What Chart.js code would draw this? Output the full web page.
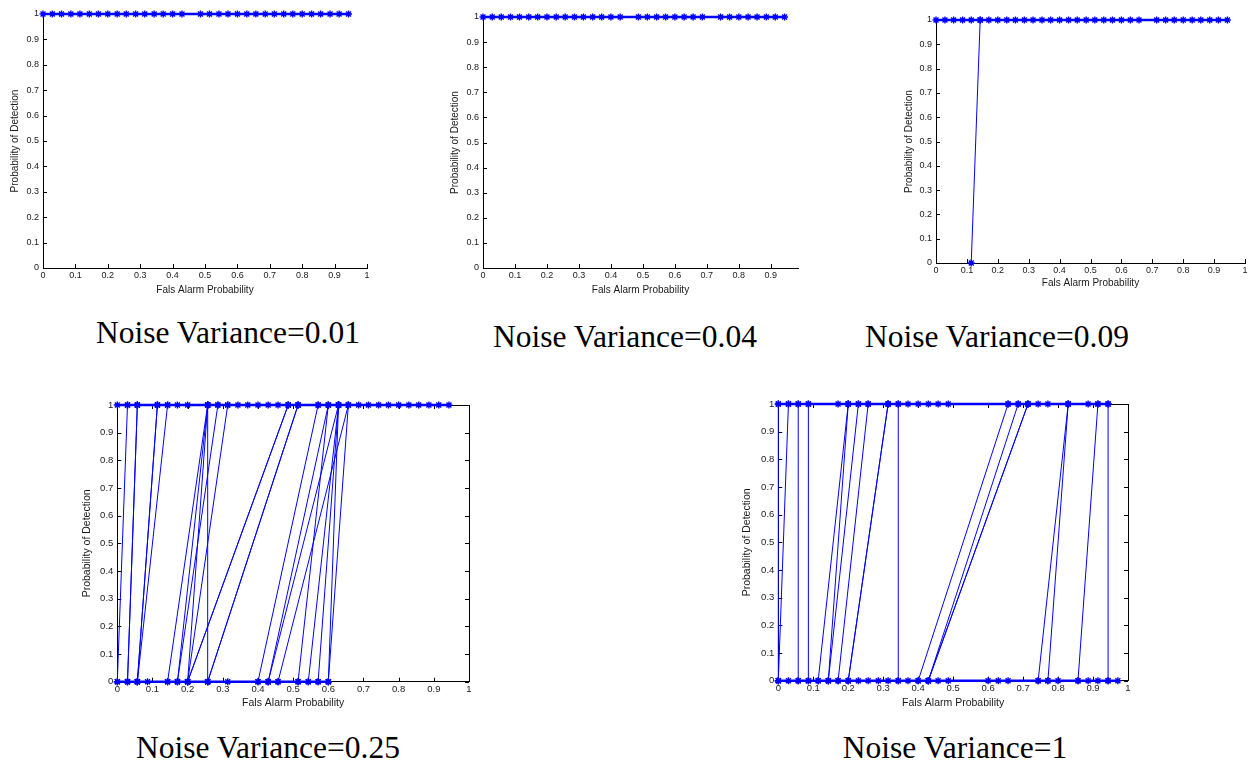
<!DOCTYPE html>
<html>
<head>
<meta charset="utf-8">
<script src="https://cdn.jsdelivr.net/npm/chart.js@4.4.0/dist/chart.umd.min.js"></script>
<style>
  html, body { margin: 0; padding: 0; background: #fff; overflow: hidden; }
  body { width: 1249px; height: 766px; position: relative; }
  canvas { position: absolute; }
  .caption {
    position: absolute;
    font-family: "Liberation Serif", "Times New Roman", serif;
    font-size: 31.5px;
    line-height: 31.5px;
    white-space: nowrap;
    color: #000;
    transform: translateX(-50%);
  }
</style>
</head>
<body>
<div class="caption" style="left:228px; top:317px">Noise Variance=0.01</div>
<div class="caption" style="left:625px; top:321px">Noise Variance=0.04</div>
<div class="caption" style="left:997px; top:321px">Noise Variance=0.09</div>
<div class="caption" style="left:268px; top:732px">Noise Variance=0.25</div>
<div class="caption" style="left:955px; top:732px">Noise Variance=1</div>

<canvas id="p1"></canvas>
<canvas id="p2"></canvas>
<canvas id="p3"></canvas>
<canvas id="p4"></canvas>
<canvas id="p5"></canvas>

<script>
// tick labels
const xTicks = [0, 0.1, 0.2, 0.3, 0.4, 0.5, 0.6, 0.7, 0.8, 0.9, 1];
const xTicksCut = [0, 0.1, 0.2, 0.3, 0.4, 0.5, 0.6, 0.7, 0.8, 0.9];
const yTicks = [0, 0.1, 0.2, 0.3, 0.4, 0.5, 0.6, 0.7, 0.8, 0.9, 1];

// false alarm values of the points lying on Pd = 1 / Pd = 0
const p1Top = [0, 0.029, 0.057, 0.086, 0.114, 0.143, 0.171, 0.2, 0.229, 0.257, 0.286, 0.314, 0.343, 0.371, 0.4, 0.429,
  0.486, 0.514, 0.543, 0.571, 0.6, 0.629, 0.657, 0.686, 0.714, 0.743, 0.771, 0.8, 0.829, 0.857, 0.886, 0.914, 0.943];

const p2Top = [0, 0.029, 0.057, 0.086, 0.114, 0.143, 0.171, 0.2, 0.229, 0.257, 0.286, 0.314, 0.343, 0.371, 0.4, 0.429,
  0.486, 0.514, 0.543, 0.571, 0.6, 0.629, 0.657, 0.686, 0.743, 0.771, 0.8, 0.829, 0.857, 0.886, 0.914, 0.943];

const p3Top = [0, 0.029, 0.057, 0.086, 0.114, 0.143, 0.171, 0.2, 0.229, 0.257, 0.286, 0.314, 0.343, 0.371, 0.4, 0.429,
  0.457, 0.486, 0.514, 0.543, 0.571, 0.6, 0.629, 0.657, 0.714, 0.743, 0.771, 0.8, 0.829, 0.857, 0.886, 0.914, 0.943];
const p3JumpFrom = [0.114];
const p3JumpTo = [0.143];

const p4Top = [0, 0.029, 0.057, 0.114, 0.143, 0.171, 0.2, 0.257, 0.286, 0.314, 0.343, 0.371, 0.4, 0.429, 0.457, 0.486,
  0.514, 0.571, 0.6, 0.629, 0.657, 0.686, 0.714, 0.743, 0.771, 0.8, 0.829, 0.857, 0.886, 0.914, 0.943];
const p4Bottom = [0, 0.029, 0.057, 0.086, 0.143, 0.171, 0.2, 0.257, 0.314, 0.4, 0.429, 0.457, 0.514, 0.543, 0.571, 0.6];
const p4JumpFrom = [0, 0.029, 0.029, 0.057, 0.057, 0.057, 0.143, 0.171, 0.2, 0.171, 0.2, 0.257, 0.2, 0.2, 0.257, 0.257,
  0.4, 0.429, 0.429, 0.457, 0.514, 0.543, 0.571, 0.6, 0.6];
const p4JumpTo = [0.029, 0.057, 0.057, 0.114, 0.114, 0.143, 0.257, 0.257, 0.257, 0.286, 0.314, 0.257, 0.486, 0.486, 0.514, 0.514,
  0.571, 0.6, 0.629, 0.657, 0.6, 0.629, 0.629, 0.629, 0.657];

const p5Top = [0, 0.029, 0.057, 0.086, 0.171, 0.2, 0.229, 0.257, 0.314, 0.343, 0.371, 0.4, 0.429, 0.457, 0.486,
  0.657, 0.686, 0.714, 0.743, 0.771, 0.829, 0.886, 0.914, 0.943];
const p5Bottom = [0, 0.029, 0.057, 0.086, 0.114, 0.143, 0.171, 0.2, 0.229, 0.257, 0.286, 0.314, 0.343, 0.371, 0.4, 0.429,
  0.457, 0.486, 0.6, 0.629, 0.657, 0.743, 0.771, 0.8, 0.857, 0.886, 0.914, 0.943, 0.971];
const p5JumpFrom = [0, 0, 0.057, 0.086, 0.114, 0.143, 0.143, 0.171, 0.2, 0.2, 0.343, 0.4, 0.429, 0.429, 0.429,
  0.743, 0.771, 0.857, 0.943];
const p5JumpTo = [0, 0.029, 0.057, 0.086, 0.2, 0.2, 0.229, 0.257, 0.314, 0.314, 0.343, 0.657, 0.686, 0.714, 0.714,
  0.829, 0.829, 0.914, 0.943];

const BLUE = '#0000ff';
const FONT = '"Liberation Sans", Arial, sans-serif';

const markers = {
  pointStyle: 'star',
  pointRadius: 3.5,
  pointBorderWidth: 1.4,
  pointBorderColor: BLUE,
  pointBackgroundColor: BLUE,
};

function flat(xs, pd, width) {
  return {
    data: xs.map(x => ({ x: x, y: pd })),
    borderColor: BLUE, borderWidth: width, tension: 0, clip: 8,
    ...markers,
  };
}

function jumps(from, to) {
  const pts = [];
  from.forEach((f, i) => {
    pts.push({ x: f, y: 0 }, { x: to[i], y: 1 }, { x: to[i], y: null });
  });
  return {
    data: pts,
    borderColor: BLUE, borderWidth: 1, tension: 0, clip: 8, spanGaps: false,
    ...markers,
  };
}

// MATLAB-like inward ticks and optional full box
const matlabAxes = {
  id: 'matlabAxes',
  beforeDatasetsDraw(chart, args, opts) {
    const { ctx, chartArea: a, scales: { x, y } } = chart;
    ctx.save();
    ctx.strokeStyle = '#000';
    ctx.lineWidth = 1;
    ctx.beginPath();
    if (opts.box) {
      ctx.moveTo(a.left, a.top + 0.5); ctx.lineTo(a.right + 0.5, a.top + 0.5);
      ctx.lineTo(a.right + 0.5, a.bottom);
    }
    x.ticks.forEach(t => {
      const px = Math.round(x.getPixelForValue(t.value)) + 0.5;
      ctx.moveTo(px, a.bottom); ctx.lineTo(px, a.bottom - 4);
      if (opts.box) { ctx.moveTo(px, a.top); ctx.lineTo(px, a.top + 4); }
    });
    y.ticks.forEach(t => {
      const py = Math.round(y.getPixelForValue(t.value)) + 0.5;
      ctx.moveTo(a.left, py); ctx.lineTo(a.left + 4, py);
      if (opts.box) { ctx.moveTo(a.right, py); ctx.lineTo(a.right - 4, py); }
    });
    ctx.stroke();
    ctx.restore();
  }
};

function makePanel(id, p, datasets) {
  const off = p.titleSize * 1.2 / 2;
  const cl = p.yTitleX - off;
  const ct = p.area.t - 10;
  const cw = p.area.r + 10 - cl;
  const ch = p.xTitleY + off + 2 - ct;
  const yW = p.area.l - cl;
  const xH = p.xTitleY + off - p.area.b;

  const el = document.getElementById(id);
  el.width = Math.round(cw);
  el.height = Math.round(ch);
  el.style.left = Math.round(cl) + 'px';
  el.style.top = Math.round(ct) + 'px';

  const tickFont = { family: FONT, size: p.tickSize };
  const titleFont = { family: FONT, size: p.titleSize };

  new Chart(el, {
    type: 'line',
    data: { datasets: datasets },
    plugins: [matlabAxes],
    options: {
      responsive: false,
      animation: false,
      events: [],
      layout: { padding: { left: 0, top: 10, right: 10, bottom: 2 } },
      plugins: {
        legend: { display: false },
        tooltip: { enabled: false },
        matlabAxes: { box: p.box },
      },
      scales: {
        x: {
          type: 'linear', min: 0, max: p.xMax,
          grid: { display: false, drawTicks: false },
          border: { display: true, color: '#000', width: 1 },
          afterBuildTicks: s => { s.ticks = p.xTicks.map(v => ({ value: v })); },
          afterFit: s => { s.height = xH; },
          ticks: {
            autoSkip: false, maxRotation: 0, padding: 2,
            color: '#1a1a1a', font: tickFont,
            callback: v => String(Math.round(v * 10) / 10),
          },
          title: {
            display: true, text: 'Fals Alarm Probability',
            color: '#1a1a1a', font: titleFont, padding: 0,
          },
        },
        y: {
          type: 'linear', min: 0, max: 1,
          grid: { display: false, drawTicks: false },
          border: { display: true, color: '#000', width: 1 },
          afterBuildTicks: s => { s.ticks = yTicks.map(v => ({ value: v })); },
          afterFit: s => { s.width = yW; },
          ticks: {
            autoSkip: false, padding: 4,
            color: '#1a1a1a', font: tickFont,
            callback: v => String(Math.round(v * 10) / 10),
          },
          title: {
            display: true, text: 'Probability of Detection',
            color: '#1a1a1a', font: titleFont, padding: 0,
          },
        },
      },
    },
  });
}

makePanel('p1', { area: { l: 43, t: 14, r: 367, b: 268 }, yTitleX: 15, xTitleY: 290,
  xMax: 1, xTicks: xTicks, tickSize: 9, titleSize: 10, box: false },
  [flat(p1Top, 1, 2.5)]);

makePanel('p2', { area: { l: 483, t: 17, r: 798, b: 268 }, yTitleX: 455, xTitleY: 290,
  xMax: 0.985, xTicks: xTicksCut, tickSize: 9, titleSize: 10, box: false },
  [flat(p2Top, 1, 2.5)]);

makePanel('p3', { area: { l: 936, t: 20, r: 1245, b: 263 }, yTitleX: 909, xTitleY: 283,
  xMax: 1, xTicks: xTicks, tickSize: 9, titleSize: 10, box: false },
  [jumps(p3JumpFrom, p3JumpTo), flat(p3Top, 1, 2.5)]);

makePanel('p4', { area: { l: 117, t: 405, r: 469, b: 682 }, yTitleX: 87, xTitleY: 703,
  xMax: 1, xTicks: xTicks, tickSize: 9.5, titleSize: 10.5, box: true },
  [jumps(p4JumpFrom, p4JumpTo), flat(p4Bottom, 0, 2.5), flat(p4Top, 1, 2.5)]);

makePanel('p5', { area: { l: 778, t: 404, r: 1128, b: 681 }, yTitleX: 747, xTitleY: 703,
  xMax: 1, xTicks: xTicks, tickSize: 9.5, titleSize: 10.5, box: true },
  [jumps(p5JumpFrom, p5JumpTo), flat(p5Bottom, 0, 2.5), flat(p5Top, 1, 2.5)]);
</script>
</body>
</html>
